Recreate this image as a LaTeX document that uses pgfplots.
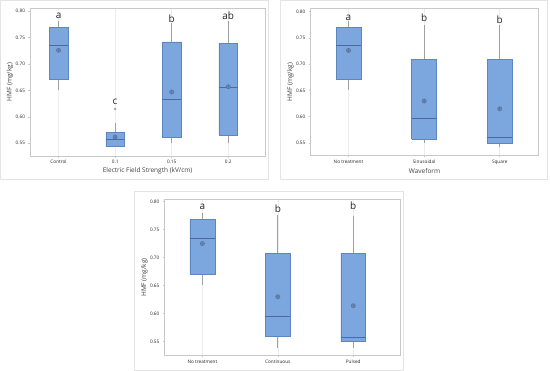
\documentclass[border=0pt]{standalone}
\usepackage{fontspec}
\setmainfont{Open Sans}
\usepackage{pgfplots}
\pgfplotsset{compat=1.18}
\definecolor{boxfill}{HTML}{7BA6DE}
\definecolor{boxedge}{HTML}{5F85BE}
\definecolor{medline}{HTML}{4D6A99}
\definecolor{meanmk}{HTML}{6A88B8}
\definecolor{whisk}{HTML}{A0A0A0}
\definecolor{axframe}{HTML}{C8C8C8}
\definecolor{panelframe}{HTML}{E4E4E4}
\definecolor{gridc}{HTML}{EDEDED}
\tikzset{letter/.style={font=\fontsize{10}{12}\selectfont, text=black!85}}
\pgfplotsset{
  panel/.style={
    scale only axis, anchor=south west,
    axis line style={axframe, line width=0.8pt},
    ytick={0.55,0.60,0.65,0.70,0.75,0.80},
    yticklabel style={/pgf/number format/.cd, fixed, fixed zerofill, precision=2, assume math mode=true},
    tick label style={font=\fontsize{4.7}{5}\selectfont, text=black!85},
    label style={font=\fontsize{6.5}{7.5}\selectfont, text=black!75},
    tick align=outside, major tick length=1.8pt,
    xtick pos=bottom, ytick pos=left,
    tick style={axframe, line width=0.5pt},
    xmajorgrids, grid style={gridc, line width=0.5pt},
    ylabel={HMF (mg/kg)},
    ylabel style={yshift=-4.5pt},
    xlabel style={yshift=3pt},
    xticklabel style={yshift=1pt},
    clip=false,
  },
  meanplot/.style={only marks, mark=oplus*, mark size=2.2pt, mark options={fill=meanmk, draw=meanmk!80!black, line width=0.3pt}},
}
% #1 left, #2 right, #3 centre, #4 lower whisker, #5 Q1, #6 median, #7 Q3, #8 upper whisker
\newcommand{\bx}[8]{%
  \addplot[whisk, line width=0.8pt] coordinates {(#3,#4) (#3,#5)};
  \addplot[whisk, line width=0.8pt] coordinates {(#3,#7) (#3,#8)};
  \addplot[fill=boxfill, draw=boxedge, line width=0.5pt] coordinates {(#1,#5) (#2,#5) (#2,#7) (#1,#7) (#1,#5)};
  \addplot[medline, line width=0.7pt] coordinates {(#1,#6) (#2,#6)};
}
\begin{document}
\begin{tikzpicture}
\fill[white] (0pt,0pt) rectangle (550pt,371pt);
\draw[panelframe, line width=0.6pt] (0.5pt,192pt) rectangle (268.5pt,370.5pt);
\draw[panelframe, line width=0.6pt] (280.5pt,192pt) rectangle (547.5pt,370.5pt);
\draw[panelframe, line width=0.6pt] (134.5pt,1pt) rectangle (403.5pt,179.5pt);

% Panel 1
\begin{axis}[panel, at={(30.3pt,215pt)}, width=234.7pt, height=148pt,
  xmin=-0.5, xmax=3.65, ymin=0.526, ymax=0.806,
  xtick={0,1,2,3}, xticklabels={Control,0.1,0.15,0.2},
  xlabel={Electric Field Strength (kV/cm)}]
\bx{-0.165}{0.165}{0}{0.651}{0.672}{0.736}{0.770}{0.781}
\bx{0.835}{1.165}{1}{0.544}{0.544}{0.557}{0.571}{0.589}
\bx{1.835}{2.165}{2}{0.550}{0.561}{0.633}{0.742}{0.777}
\bx{2.835}{3.165}{3}{0.550}{0.566}{0.656}{0.739}{0.781}
\addplot[only marks, mark=asterisk, mark size=1.3pt, mark options={draw=whisk}] coordinates {(1,0.615)};
\addplot[meanplot] coordinates {(0,0.726) (1,0.562) (2,0.647) (3,0.657)};
\node[letter] at (axis cs:0,0.791) {a};
\node[letter] at (axis cs:1,0.629) {c};
\node[letter] at (axis cs:2,0.785) {b};
\node[letter] at (axis cs:3,0.791) {ab};
\end{axis}

% Panel 2
\begin{axis}[panel, at={(310.7pt,215.3pt)}, width=227.6pt, height=147.4pt,
  xmin=-0.5, xmax=2.51, ymin=0.526, ymax=0.806,
  xtick={0,1,2}, xticklabels={No treatment,Sinusoidal,Square},
  xlabel={Waveform}]
\bx{-0.165}{0.165}{0}{0.651}{0.672}{0.736}{0.770}{0.781}
\bx{0.835}{1.165}{1}{0.550}{0.557}{0.596}{0.709}{0.775}
\bx{1.835}{2.165}{2}{0.542}{0.550}{0.560}{0.709}{0.775}
\addplot[meanplot] coordinates {(0,0.726) (1,0.630) (2,0.615)};
\node[letter] at (axis cs:0,0.788) {a};
\node[letter] at (axis cs:1,0.788) {b};
\node[letter] at (axis cs:2,0.785) {b};
\end{axis}

% Panel 3
\begin{axis}[panel, at={(164.7pt,15.3pt)}, width=235.3pt, height=156.4pt,
  xmin=-0.5, xmax=2.62, ymin=0.525, ymax=0.804,
  xtick={0,1,2}, xticklabels={No treatment,Continuous,Pulsed}]
\bx{-0.165}{0.165}{0}{0.651}{0.671}{0.735}{0.768}{0.779}
\bx{0.835}{1.165}{1}{0.539}{0.560}{0.595}{0.708}{0.776}
\bx{1.835}{2.165}{2}{0.539}{0.550}{0.558}{0.708}{0.774}
\addplot[meanplot] coordinates {(0,0.725) (1,0.630) (2,0.614)};
\node[letter] at (axis cs:0,0.791) {a};
\node[letter] at (axis cs:1,0.787) {b};
\node[letter] at (axis cs:2,0.792) {b};
\end{axis}
\end{tikzpicture}
\end{document}
